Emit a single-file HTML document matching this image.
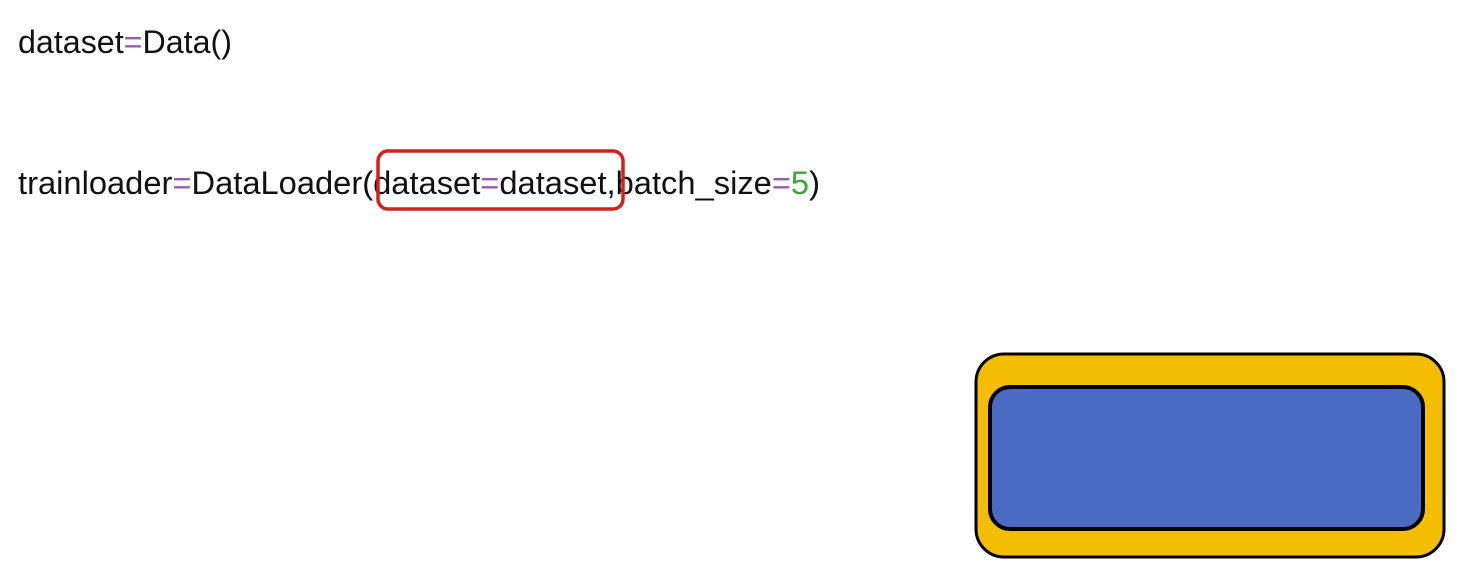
<!DOCTYPE html>
<html><head><meta charset="utf-8"><style>
html,body{margin:0;padding:0;background:#fff;width:1460px;height:575px;overflow:hidden}
</style></head><body>
<svg width="1460" height="575" viewBox="0 0 1460 575" xmlns="http://www.w3.org/2000/svg">
<rect width="1460" height="575" fill="#fff"/>
<g font-family="Liberation Sans, sans-serif" font-size="32" fill="#111">
<text x="18" y="53" textLength="214" lengthAdjust="spacingAndGlyphs">dataset<tspan fill="#9b59b6">=</tspan>Data()</text>
<text x="18" y="194" textLength="802" lengthAdjust="spacingAndGlyphs">trainloader<tspan fill="#9b59b6">=</tspan>DataLoader(dataset<tspan fill="#9b59b6">=</tspan>dataset,batch_size<tspan fill="#9b59b6">=</tspan><tspan fill="#3aa63a">5</tspan>)</text>
</g>
<rect x="378" y="151" width="245" height="58" rx="10" fill="none" stroke="#d4201c" stroke-width="3.5"/>
<rect x="976" y="354" width="468" height="203" rx="28" fill="#f4bd00" stroke="#000" stroke-width="3"/>
<rect x="990" y="387" width="433" height="142" rx="20" fill="#4a6bc4" stroke="#000" stroke-width="4"/>
</svg>
</body></html>
